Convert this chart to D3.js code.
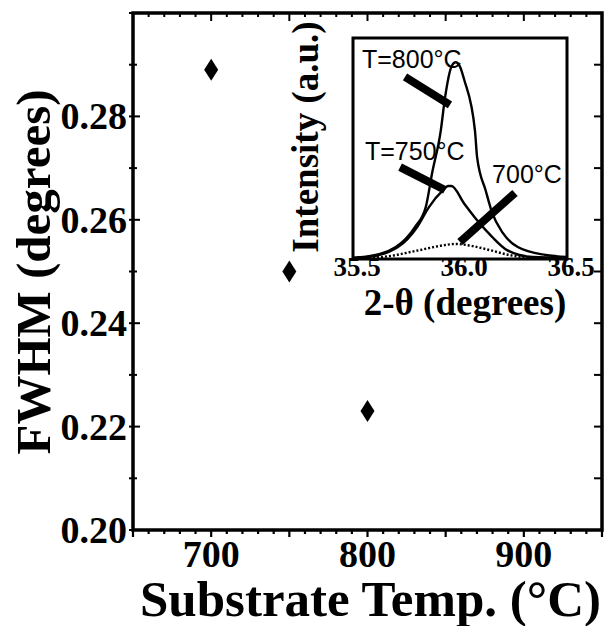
<!DOCTYPE html>
<html>
<head>
<meta charset="utf-8">
<script src="https://cdn.jsdelivr.net/npm/d3@7"></script>
<style>
  body { margin: 0; background: #fff; }
  svg text { fill: #000; }
</style>
</head>
<body>
<div id="chart"></div>
<script>
// main plot data
const temps = [700, 750, 800];
const fwhm = [0.289, 0.250, 0.223];
const yTickVals = [0.20, 0.22, 0.24, 0.26, 0.28];
const xTickVals = [700, 800, 900];

// inset XRD peaks (2-theta, intensity a.u.)
const theta800 = [35.50, 35.56, 35.70, 35.79, 35.84, 35.87, 35.91, 35.93, 35.96, 35.98, 36.00, 36.02, 36.07, 36.08, 36.12, 36.15, 36.20, 36.27, 36.40, 36.50];
const int800   = [0.005, 0.010, 0.054, 0.145, 0.235, 0.39, 0.58, 0.73, 0.87, 0.89, 0.87, 0.81, 0.58, 0.46, 0.31, 0.21, 0.118, 0.054, 0.018, 0.009];
const theta750 = [35.50, 35.57, 35.71, 35.80, 35.855, 35.92, 35.945, 35.96, 36.02, 36.08, 36.15, 36.22, 36.34, 36.50];
const int750   = [0.005, 0.009, 0.054, 0.145, 0.235, 0.31, 0.33, 0.33, 0.25, 0.175, 0.10, 0.04, 0.009, 0.005];
const theta700 = [35.50, 35.63, 35.81, 35.91, 35.98, 36.05, 36.14, 36.23, 36.32];
const int700   = [0.005, 0.009, 0.04, 0.06, 0.068, 0.06, 0.04, 0.018, 0.005];
const insetTickVals = [35.5, 36.0, 36.5];

// callouts: label, label anchor (theta, I), pointer from / to
const calloutLabels = ["T=800\u00b0C", "T=750\u00b0C", "700\u00b0C"];
const calloutText = [[35.542, 0.864], [35.556, 0.448], [36.15, 0.344]];
const calloutFrom = [[35.743, 0.824], [35.72, 0.416], [36.257, 0.299]];
const calloutTo   = [[35.953, 0.697], [35.93, 0.312], [36.0, 0.077]];

const W = 614, H = 626;
const serif = "'Liberation Serif', 'Times New Roman', serif";
const sans = "'Liberation Sans', Arial, sans-serif";

const svg = d3.select("#chart").append("svg")
  .attr("width", W)
  .attr("height", H);

svg.append("rect").attr("width", W).attr("height", H).attr("fill", "#fff");

const mL = 133, mR = 602, mT = 13, mB = 530;

const x = d3.scaleLinear().domain([650, 950]).range([mL, mR]);
const y = d3.scaleLinear().domain([0.20, 0.30]).range([mB, mT]);

// minor/major tick marks
const xMinor = d3.range(650, 951, 10);
const yMinor = d3.range(0, 11).map(i => 0.20 + i * 0.01);

const ticks = svg.append("g").attr("stroke", "#000");
ticks.selectAll(".xb").data(xMinor).enter().append("line")
  .attr("x1", d => x(d)).attr("x2", d => x(d))
  .attr("y1", mB).attr("y2", d => mB + (d % 50 === 0 ? 7 : 4))
  .attr("stroke-width", 2.2);
ticks.selectAll(".xt").data(xMinor).enter().append("line")
  .attr("x1", d => x(d)).attr("x2", d => x(d))
  .attr("y1", mT).attr("y2", d => mT + (d % 50 === 0 ? 8 : 4))
  .attr("stroke-width", 2);
ticks.selectAll(".yl").data(yMinor).enter().append("line")
  .attr("y1", d => y(d)).attr("y2", d => y(d))
  .attr("x1", mL - 4).attr("x2", (d, i) => mL + (i % 2 === 0 ? 7 : 4))
  .attr("stroke-width", 2);
ticks.selectAll(".yr").data(yMinor).enter().append("line")
  .attr("y1", d => y(d)).attr("y2", d => y(d))
  .attr("x1", mR).attr("x2", mR - 8)
  .attr("stroke-width", 2);

// frame
svg.append("rect")
  .attr("x", mL).attr("y", mT)
  .attr("width", mR - mL).attr("height", mB - mT)
  .attr("fill", "none").attr("stroke", "#000").attr("stroke-width", 3.5);

// tick labels
svg.selectAll(".ylab").data(yTickVals).enter().append("text")
  .attr("x", mL - 6).attr("y", d => y(d))
  .attr("dy", "0.34em")
  .attr("text-anchor", "end")
  .style("font-family", serif).style("font-weight", "bold").style("font-size", "38px")
  .text(d => d3.format(".2f")(d));

svg.selectAll(".xlab").data(xTickVals).enter().append("text")
  .attr("x", d => x(d)).attr("y", 567)
  .attr("text-anchor", "middle")
  .style("font-family", serif).style("font-weight", "bold").style("font-size", "38px")
  .text(d => d);

// axis titles
svg.append("text")
  .attr("transform", "translate(50," + 272 + ") rotate(-90)")
  .attr("text-anchor", "middle")
  .style("font-family", serif).style("font-weight", "bold").style("font-size", "49px")
  .text("FWHM (degrees)");

svg.append("text")
  .attr("x", 140).attr("y", 616)
  .style("font-family", serif).style("font-weight", "bold").style("font-size", "51px")
  .text("Substrate Temp. (\u00b0C)");

// data points: diamonds
const pts = temps.map((t, i) => ({t: t, v: fwhm[i]}));
svg.selectAll(".pt").data(pts).enter().append("path")
  .attr("d", "M0,-11L7,0L0,11L-7,0Z")
  .attr("transform", d => "translate(" + x(d.t) + "," + y(d.v) + ")")
  .attr("fill", "#000");

// ---------- inset ----------
const iL = 353, iR = 567, iT = 38, iB = 259;
const ix = d3.scaleLinear().domain([35.5, 36.5]).range([iL, iR]);
const iy = d3.scaleLinear().domain([0, 1]).range([iB, iT]);

const inset = svg.append("g");
inset.append("rect")
  .attr("x", iL).attr("y", iT).attr("width", iR - iL).attr("height", iB - iT)
  .attr("fill", "#fff").attr("stroke", "#000").attr("stroke-width", 3);

const line = d3.line().x(d => ix(d[0])).y(d => iy(d[1])).curve(d3.curveMonotoneX);
const curves = [
  {th: theta800, v: int800, dash: null},
  {th: theta750, v: int750, dash: null},
  {th: theta700, v: int700, dash: "2,2"}
];
inset.selectAll(".curve").data(curves).enter().append("path")
  .attr("d", c => line(c.th.map((t, i) => [t, c.v[i]])))
  .attr("fill", "none").attr("stroke", "#000").attr("stroke-width", 2.4)
  .attr("stroke-dasharray", c => c.dash);

// callout bars and labels
inset.selectAll(".bar").data(calloutFrom).enter().append("line")
  .attr("x1", d => ix(d[0])).attr("y1", d => iy(d[1]))
  .attr("x2", (d, i) => ix(calloutTo[i][0])).attr("y2", (d, i) => iy(calloutTo[i][1]))
  .attr("stroke", "#000").attr("stroke-width", 8);

inset.selectAll(".clab").data(calloutLabels).enter().append("text")
  .attr("x", (d, i) => ix(calloutText[i][0])).attr("y", (d, i) => iy(calloutText[i][1]))
  .style("font-family", sans).style("font-size", "25px")
  .text(d => d);

inset.selectAll(".ilab").data(insetTickVals).enter().append("text")
  .attr("x", d => ix(d) + 4).attr("y", 276)
  .attr("text-anchor", "middle")
  .style("font-family", serif).style("font-weight", "bold").style("font-size", "27px")
  .text(d => d3.format(".1f")(d));

inset.append("text")
  .attr("x", 465).attr("y", 315)
  .attr("text-anchor", "middle")
  .style("font-family", serif).style("font-weight", "bold").style("font-size", "37px")
  .text("2-\u03b8 (degrees)");

inset.append("text")
  .attr("transform", "translate(318,137) rotate(-90)")
  .attr("text-anchor", "middle")
  .style("font-family", serif).style("font-weight", "bold").style("font-size", "37px")
  .text("Intensity (a.u.)");
</script>
</body>
</html>
